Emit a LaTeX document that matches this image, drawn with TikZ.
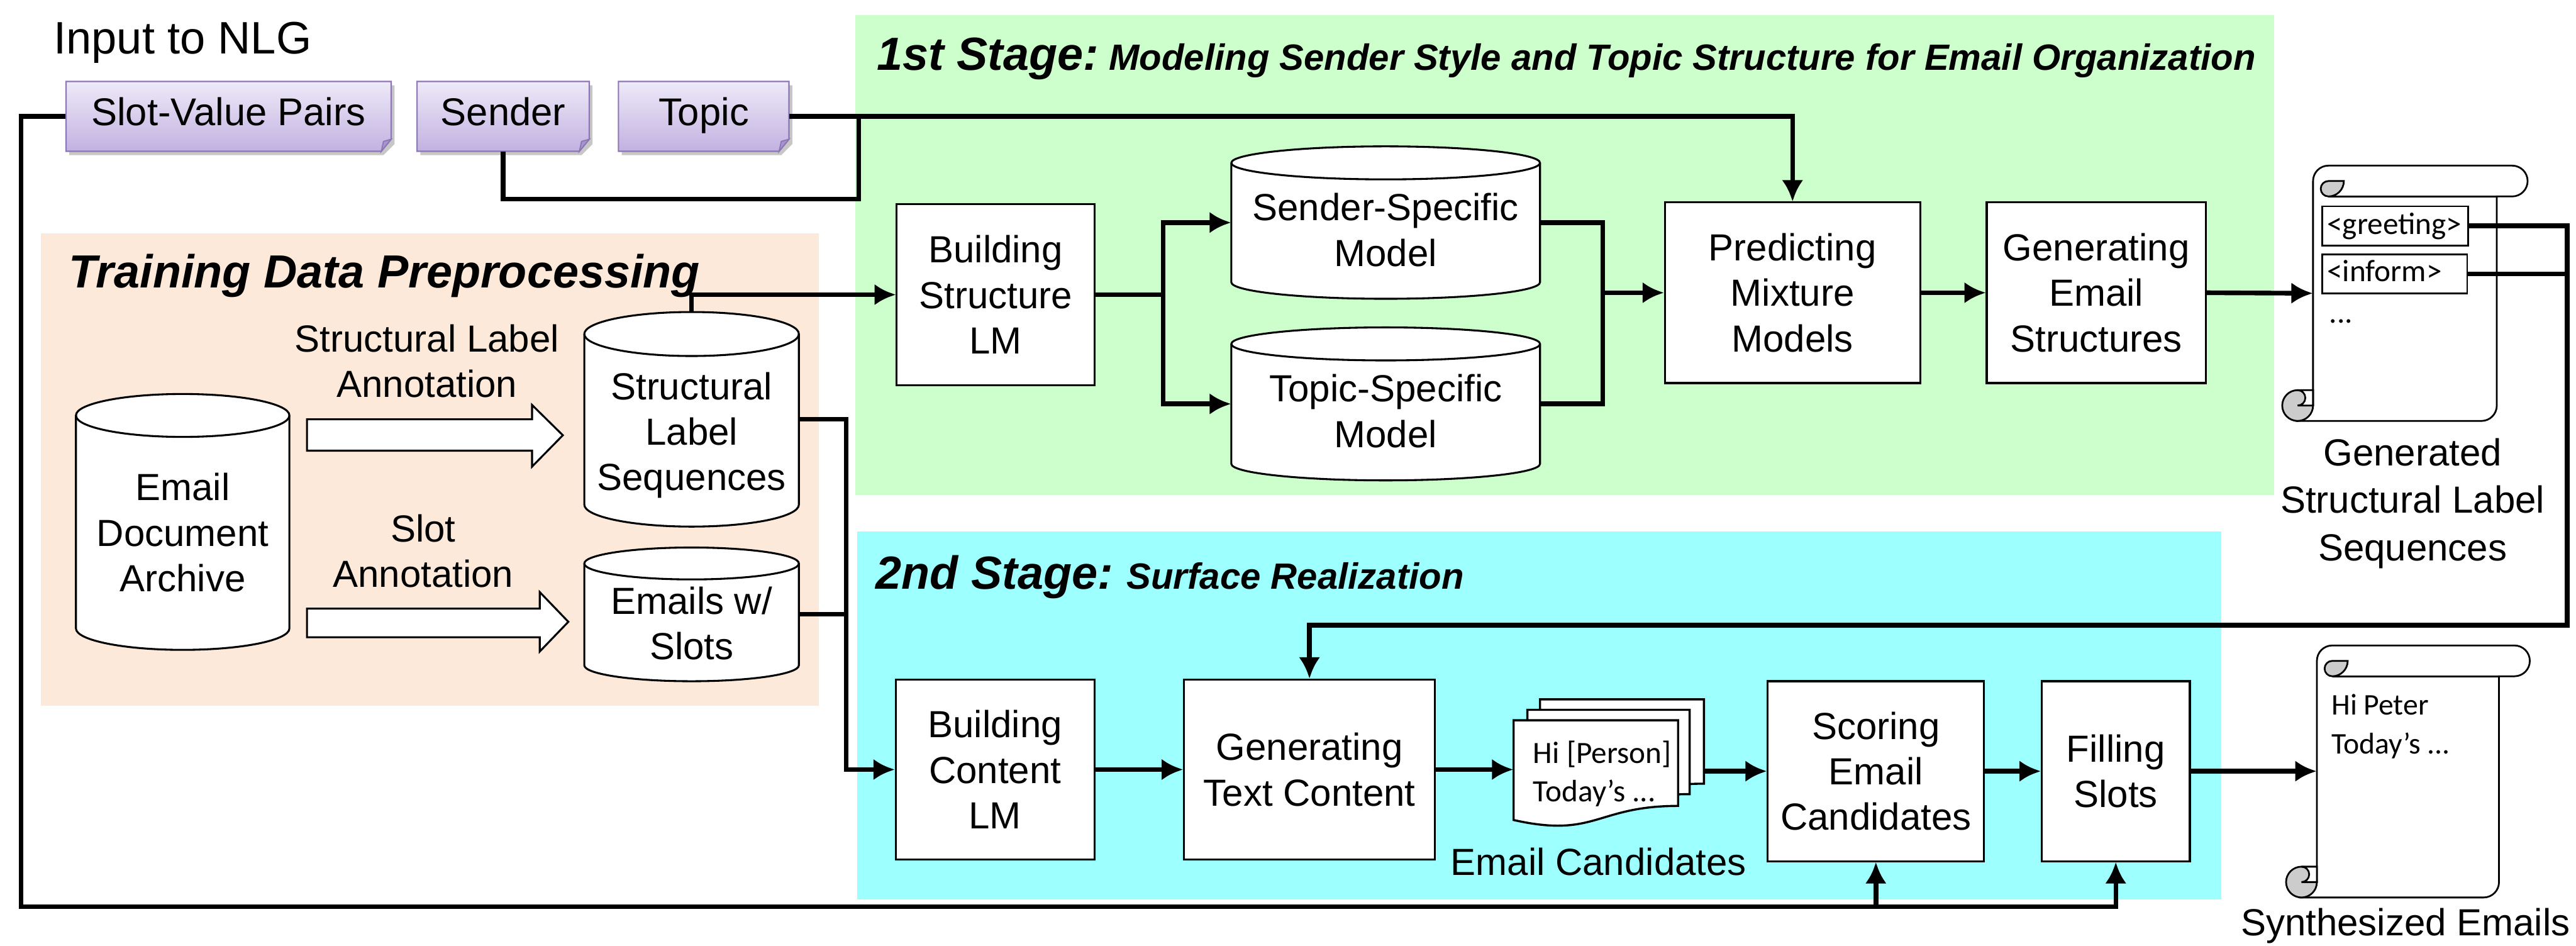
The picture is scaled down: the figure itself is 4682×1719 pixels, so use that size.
\documentclass[tikz,border=0pt]{standalone}
\usepackage{fontspec}
\setmainfont{Liberation Sans}
\newfontfamily\calfont{Carlito}
\usetikzlibrary{arrows.meta}
\definecolor{greenbg}{RGB}{204,255,204}
\definecolor{cyanbg}{RGB}{158,255,255}
\definecolor{peachbg}{RGB}{253,233,217}
\definecolor{noteTop}{RGB}{238,234,248}
\definecolor{noteBot}{RGB}{194,177,225}
\definecolor{noteLine}{RGB}{140,118,182}
\definecolor{noteFold}{RGB}{168,148,205}
\definecolor{curlgrey}{RGB}{204,204,204}
\newcommand\lblfont{\fontsize{19.5}{23.5}\selectfont}
\newcommand\genfont{\fontsize{19.5}{24.5}\selectfont}
\newcommand\notefont{\fontsize{20}{24}\selectfont}
\newcommand\inpfont{\fontsize{23.5}{28}\selectfont}
\newcommand\ttlfont{\fontsize{24}{28}\selectfont\bfseries\itshape}
\newcommand\subttlfont{\fontsize{18.9}{22}\selectfont\bfseries\itshape}
\newcommand\calsmall{\calfont\fontsize{16}{19}\selectfont}
\newcommand\calmid{\calfont\fontsize{15.5}{19}\selectfont}
% cylinder: name, xl, xr, ytop, ybot, ry, text, text-centre-y
\newcommand\cyl[8]{%
 \pgfmathsetmacro\cyA{(#2+#3)/2}\pgfmathsetmacro\cyR{(#3-#2)/2}%
 \pgfmathsetmacro\cyT{#4+#6}\pgfmathsetmacro\cyB{#5-#6}%
 \pgfmathsetmacro\cyM{(#4+#5)/2}\pgfmathsetmacro\cyW{(#3-#2)*0.01}\pgfmathsetmacro\cyH{(#5-#4)*0.01}%
 \filldraw[cylst] (#2,\cyT) -- (#2,\cyB) arc[start angle=180,end angle=0,x radius=\cyR,y radius=#6] -- (#3,\cyT) arc[start angle=0,end angle=-180,x radius=\cyR,y radius=#6] -- cycle;
 \draw[cylst,fill=none] (#2,\cyT) arc[start angle=180,end angle=0,x radius=\cyR,y radius=#6];
 \node[inner sep=0pt,minimum width=\cyW cm,minimum height=\cyH cm] (#1) at (\cyA,\cyM) {};
 \node[lbl] (#1-t) at (\cyA,#8) {#7};
}
% note: name, x1, y1, x2, y2, text
\newcommand\notebox[6]{%
 \fill[black,opacity=0.22] (#2+6,#3+7) -- (#4+6,#3+7) -- (#4+6,#5+7-20) -- (#4+6-20,#5+7) -- (#2+6,#5+7) -- cycle;
 \shade[top color=noteTop,bottom color=noteBot] (#2,#3) -- (#4,#3) -- (#4,#5-22) -- (#4-18,#5) -- (#2,#5) -- cycle;
 \draw[noteLine,line width=0.7pt] (#2,#3) -- (#4,#3) -- (#4,#5-22) -- (#4-18,#5) -- (#2,#5) -- cycle;
 \filldraw[fill=noteFold,draw=noteLine,line width=0.6pt] (#4,#5-22) -- (#4-18,#5) -- (#4-14,#5-18) -- cycle;
 \pgfmathsetmacro\ntW{(#4-#2)*0.01}\pgfmathsetmacro\ntH{(#5-#3)*0.01}%
 \node[inner sep=0pt,minimum width=\ntW cm,minimum height=\ntH cm] (#1) at ({(#2+#4)/2},{(#3+#5)/2}) {};
 \node[ntext,anchor=base] (#1-t) at ({(#2+#4)/2},228) {#6};
}
% scroll: name, L, R, T, B
\newcommand\scrollshape[5]{%
 \filldraw[scrl] (#2,#4+28) arc[start angle=180,end angle=270,radius=28] -- (#3+28,#4) arc[start angle=270,end angle=450,radius=28] -- (#3,#4+56) -- (#3,#5-28) arc[start angle=0,end angle=90,radius=28] -- (#2-28,#5) -- (#2,#5-28) -- cycle;
 \draw[scrl] (#3,#4+56) -- (#2+28,#4+56);
 \filldraw[scrl,fill=curlgrey] (#2+28,#4+28) -- (#2+56,#4+28) arc[start angle=0,end angle=90,radius=28] arc[start angle=90,end angle=270,radius=14] -- cycle;
 \filldraw[scrl,fill=curlgrey] (#2-28,#5-28) circle[radius=28];
 \filldraw[scrl] (#2,#5-56) -- (#2-28,#5-56) arc[start angle=270,end angle=450,radius=14] -- (#2,#5-28) -- cycle;
 \pgfmathsetmacro\scW{(#3-#2)*0.01}\pgfmathsetmacro\scH{(#5-#4)*0.01}%
 \node[inner sep=0pt,minimum width=\scW cm,minimum height=\scH cm] (#1) at ({(#2+#3)/2},{(#4+#5)/2}) {};
}
% document with wavy bottom: name, x0, y0, w, h
\newcommand\docshape[5]{%
 \filldraw[docst] (#2,#3) -- (#2+#4,#3) -- (#2+#4,#3+0.802*#5) .. controls (#2+0.5*#4,#3+0.802*#5) and (#2+0.5*#4,#3+1.107*#5) .. (#2,#3+0.934*#5) -- cycle;
 \pgfmathsetmacro\dcW{#4*0.01}\pgfmathsetmacro\dcH{#5*0.01}%
 \node[inner sep=0pt,minimum width=\dcW cm,minimum height=\dcH cm] (#1) at ({#2+#4/2},{#3+#5/2}) {};
}
\begin{document}
\begin{tikzpicture}[x=0.01cm,y=-0.01cm,
  conn/.style={line width=2.4pt},
  arr/.style={line width=2.4pt,-{Latex[length=11pt,width=11pt]}},
  box/.style={draw,line width=1pt,fill=white,inner sep=0pt,align=center,font=\lblfont},
  lbl/.style={inner sep=0pt,align=center,font=\lblfont},
  cylst/.style={draw,line width=1pt,fill=white},
  scrl/.style={draw,line width=0.9pt,fill=white},
  docst/.style={draw,line width=1.1pt,fill=white},
  ntext/.style={inner sep=0pt,font=\notefont},
  basew/.style={anchor=base west,inner sep=0pt},
  tagbox/.style={draw,line width=0.9pt,fill=white,inner sep=0pt},
]
\useasboundingbox (0,0) rectangle (4682,1719);

% background regions
\fill[greenbg] (1555,27) rectangle (4133,900);
\fill[cyanbg] (1558,966) rectangle (4037,1635);
\fill[peachbg] (74,424) rectangle (1488,1283);

% titles
\node[basew,font=\inpfont] (inp) at (97,98) {Input to NLG};
\node[basew,font=\ttlfont] (tdp) at (124,523) {Training Data Preprocessing};
\node[basew,font=\ttlfont] (s1) at (1593,128) {1st Stage:};
\node[basew,font=\subttlfont] (s1sub) at (2015,128) {Modeling Sender Style and Topic Structure for Email Organization};
\node[basew,font=\ttlfont] (s2) at (1591,1070) {2nd Stage:};
\node[basew,font=\subttlfont] (s2sub) at (2047,1070) {Surface Realization};

% input notes
\notebox{svp}{120}{148}{711}{275}{Slot-Value Pairs}
\notebox{sender}{758}{148}{1071}{275}{Sender}
\notebox{topic}{1124}{148}{1434}{275}{Topic}

% training data preprocessing
\cyl{eda}{138}{526}{716}{1181}{39}{Email\\Document\\Archive}{968}
\cyl{sls}{1062}{1452}{567}{957}{40}{Structural\\Label\\Sequences}{791}
\cyl{ews}{1062}{1452}{995}{1238}{29}{Emails w/\\Slots}{1133}
\draw[line width=1pt,fill=white] (558,762) -- (967,762) -- (967,736) -- (1023,791) -- (967,848) -- (967,819) -- (558,819) -- cycle;
\draw[line width=1pt,fill=white] (558,1106) -- (981,1106) -- (981,1076) -- (1033,1130) -- (981,1184) -- (981,1158) -- (558,1158) -- cycle;
\node[lbl] (sla) at (776,656) {Structural Label\\Annotation};
\node[lbl] (sa) at (769,1001) {Slot\\Annotation};

% first stage
\node[box,minimum width=3.59cm,minimum height=3.29cm] (bsl) at (1809.5,535.5) {Building\\Structure\\LM};
\cyl{ssm}{2238}{2799}{266}{543}{30}{Sender-Specific\\Model}{418}
\cyl{tsm}{2238}{2799}{595}{873}{30}{Topic-Specific\\Model}{747}
\node[box,minimum width=4.64cm,minimum height=3.28cm] (pmm) at (3258,532) {Predicting\\Mixture\\Models};
\node[box,minimum width=3.98cm,minimum height=3.28cm] (ges) at (3810,532) {Generating\\Email\\Structures};

% generated structural label sequences scroll
\scrollshape{gsl}{4204}{4538}{301}{765}
\node[tagbox,minimum width=2.65cm,minimum height=0.71cm] (gb) at (4353.5,410.5) {};
\node[basew,font=\calsmall] (gbt) at (4229,426) {<greeting>};
\node[tagbox,minimum width=2.63cm,minimum height=0.71cm] (ib) at (4352.5,497.5) {};
\node[basew,font=\calsmall] (ibt) at (4229,512) {<inform>};
\node[basew,font=\calsmall] (dots) at (4233,587) {...};
\node[lbl,font=\genfont] (gsll) at (4385,915) {Generated\\Structural Label\\Sequences};

% second stage
\node[box,minimum width=3.61cm,minimum height=3.27cm] (bcl) at (1808.5,1398.5) {Building\\Content\\LM};
\node[box,minimum width=4.56cm,minimum height=3.27cm] (gtc) at (2380,1398.5) {Generating\\Text Content};
\docshape{ecb}{2799}{1271}{298}{191}
\docshape{ecm}{2776}{1290}{295}{191}
\docshape{ecf}{2751}{1309}{299}{194}
\node[basew,font=\calsmall] (ect1) at (2786,1387) {Hi [Person]};
\node[basew,font=\calsmall] (ect2) at (2786,1457) {Today’s ...};
\node[basew,font=\lblfont] (ecl) at (2636,1590) {Email Candidates};
\node[box,minimum width=3.93cm,minimum height=3.27cm] (sec) at (3409.5,1401.5) {Scoring\\Email\\Candidates};
\node[box,minimum width=2.69cm,minimum height=3.27cm] (fs) at (3845.5,1401.5) {Filling\\Slots};

% synthesized emails scroll
\scrollshape{sem}{4211}{4542}{1173}{1631}
\node[basew,font=\calmid] (st1) at (4237,1299) {Hi Peter};
\node[basew,font=\calmid] (st2) at (4237,1370) {Today’s ...};
\node[anchor=base,inner sep=0pt,font=\lblfont] (seml) at (4372,1700) {Synthesized Emails};

% connectors
\coordinate (sj) at (1561,362);
\draw[conn] (sender.south) |- (sj) -- (sj |- topic.east);
\draw[arr] (topic.east) -| (pmm.north);
\coordinate (lb) at (38,1648);
\draw[arr] (svp.west) -| (lb) -| (fs.south);
\draw[arr] (sec.south |- lb) -- (sec.south);

\draw[arr] (sls.north) |- (bsl.west);
\coordinate (vj) at (1538,762);
\draw[arr] (sls.east) -- (vj) |- (bcl.west);
\draw[conn] (ews.east) -- (ews.east -| vj);

\coordinate (b1) at (2114,535.5);
\draw[conn] (bsl.east) -- (b1);
\draw[arr] (b1) |- (ssm.west);
\draw[arr] (b1) |- (tsm.west);
\coordinate (b2) at (2913,532);
\draw[conn] (ssm.east) -| (b2);
\draw[conn] (tsm.east) -| (b2);
\draw[arr] (b2) -- (pmm.west);
\draw[arr] (pmm.east) -- (ges.west);
\draw[arr] (ges.east) -- (gsl.west);

\coordinate (jr) at (4666,410.5);
\coordinate (jrb) at (4666,1136);
\draw[arr] (gb.east) -- (jr) -- (jrb) -| (gtc.north);
\draw[conn] (ib.east) -- (ib.east -| jr);

\draw[arr] (bcl.east) -- (gtc.west);
\draw[arr] (gtc.east) -- (gtc.east -| ecf.west);
\draw[arr] (sec.west -| ecb.east) -- (sec.west);
\draw[arr] (sec.east) -- (fs.west);
\draw[arr] (fs.east) -- (fs.east -| sem.west);
\end{tikzpicture}
\end{document}
